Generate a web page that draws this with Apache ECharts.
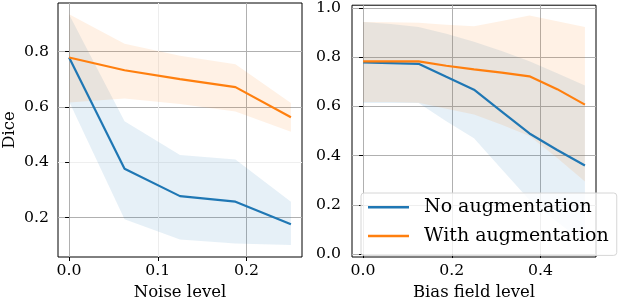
<!DOCTYPE html>
<html>
<head>
<meta charset="utf-8">
<script src="https://cdn.jsdelivr.net/npm/echarts@6/dist/echarts.min.js"></script>
<style>
html,body{margin:0;padding:0;background:#fff;}
#c{width:622px;height:306px;}
</style>
</head>
<body>
<div id="c"></div>
<script>
// ---- Data ----
const noiseLevels      = [0, 0.0625, 0.125, 0.1875, 0.25];
const noAugNoise       = [0.779, 0.377, 0.278, 0.258, 0.176];
const noAugNoiseLow    = [0.620, 0.194, 0.121, 0.107, 0.101];
const noAugNoiseHigh   = [0.934, 0.549, 0.427, 0.410, 0.258];
const withAugNoise     = [0.779, 0.733, 0.701, 0.672, 0.563];
const withAugNoiseLow  = [0.616, 0.631, 0.611, 0.584, 0.511];
const withAugNoiseHigh = [0.935, 0.829, 0.785, 0.755, 0.615];

const biasLevels       = [0, 0.0625, 0.125, 0.1875, 0.25, 0.3125, 0.375, 0.4375, 0.5];
const noAugBias        = [0.779, 0.776, 0.773, 0.720, 0.668, 0.579, 0.490, 0.423, 0.360];
const noAugBiasLow     = [0.614, 0.614, 0.614, 0.540, 0.470, 0.345, 0.220, 0.130, 0.045];
const noAugBiasHigh    = [0.943, 0.935, 0.922, 0.895, 0.863, 0.825, 0.783, 0.735, 0.685];
const withAugBias      = [0.783, 0.783, 0.783, 0.765, 0.750, 0.737, 0.722, 0.670, 0.607];
const withAugBiasLow   = [0.618, 0.618, 0.615, 0.590, 0.567, 0.525, 0.480, 0.390, 0.295];
const withAugBiasHigh  = [0.943, 0.942, 0.940, 0.932, 0.926, 0.947, 0.969, 0.946, 0.922];

const noiseTicksX = [0, 0.1, 0.2];
const noiseTicksY = [0.2, 0.4, 0.6, 0.8];
const biasTicksX  = [0, 0.2, 0.4];
const biasTicksY  = [0, 0.2, 0.4, 0.6, 0.8, 1.0];

const seriesNames = ['No augmentation', 'With augmentation'];
const xNames = ['Noise level', 'Bias field level'];
const yName = 'Dice';

// ---- Styling ----
const BLUE = '#1f77b4', ORANGE = '#ff7f0e';
const FONT = 'DejaVu Serif';
const GRIDC = '#b0b0b0';

function pairs(xs, ys) { return xs.map((x, i) => [x, ys[i]]); }

function band(idx, xs, lo, hi, fill) {
  return {
    type: 'custom', xAxisIndex: idx, yAxisIndex: idx, silent: true, z: 1,
    data: [[xs[0], lo[0]]],
    encode: { x: 0, y: 1 },
    renderItem: function (params, api) {
      const top = xs.map((x, i) => api.coord([x, hi[i]]));
      const bot = xs.map((x, i) => api.coord([x, lo[i]])).reverse();
      return { type: 'polygon', shape: { points: top.concat(bot) }, style: { fill: fill } };
    }
  };
}
function mainLine(idx, xs, ys, color, name) {
  return { type: 'line', name: name, xAxisIndex: idx, yAxisIndex: idx, data: pairs(xs, ys),
    symbol: 'none', lineStyle: { color: color, width: 2.2 }, itemStyle: { color: color }, z: 3 };
}

function xAxisCfg(idx, min, max, ticks, name, gridColors) {
  return {
    type: 'value', gridIndex: idx, min: min, max: max,
    name: name, nameLocation: 'middle', nameGap: 27,
    nameTextStyle: { fontFamily: FONT, fontSize: 16.5, color: '#000' },
    axisLine: { show: false },
    axisTick: { show: true, inside: false, length: 4, lineStyle: { color: '#000', width: 1 }, customValues: ticks },
    axisLabel: { customValues: ticks, margin: 6, fontFamily: FONT, fontSize: 15.7, color: '#000',
      formatter: v => v.toFixed(1) },
    splitLine: { show: true, lineStyle: { color: gridColors, width: 1 } }
  };
}
function yAxisCfg(idx, min, max, ticks, name, margin, gridColors) {
  return {
    type: 'value', gridIndex: idx, min: min, max: max,
    name: name, nameLocation: 'middle', nameGap: 40, nameRotate: 90,
    nameTextStyle: { fontFamily: FONT, fontSize: 16.5, color: '#000' },
    axisLine: { show: false },
    axisTick: { show: true, inside: false, length: 4, lineStyle: { color: '#000', width: 1 }, customValues: ticks },
    axisLabel: { customValues: ticks, margin: margin, fontFamily: FONT, fontSize: 15.7, color: '#000',
      formatter: v => v.toFixed(1) },
    splitLine: { show: true, lineStyle: { color: gridColors, width: 1 } }
  };
}

const chart = echarts.init(document.getElementById('c'), null, { renderer: 'canvas' });
chart.setOption({
  animation: false,
  backgroundColor: '#fff',
  grid: [
    { left: 56, top: 3, width: 246, height: 262, show: true, borderColor: '#000', borderWidth: 1, backgroundColor: 'transparent' },
    { left: 352, top: 3, width: 244, height: 262, show: true, borderColor: '#000', borderWidth: 1, backgroundColor: 'transparent' }
  ],
  xAxis: [
    xAxisCfg(0, -0.0125, 0.2625, noiseTicksX, xNames[0], [GRIDC, '#ededed', GRIDC]),
    xAxisCfg(1, -0.025, 0.525, biasTicksX, xNames[1], [GRIDC])
  ],
  yAxis: [
    yAxisCfg(0, 0.058, 0.976, noiseTicksY, yName, 9, [GRIDC, '#efefef', GRIDC, GRIDC]),
    yAxisCfg(1, -0.012, 1.011, biasTicksY, '', 11, [GRIDC])
  ],
  legend: {
    show: true,
    data: seriesNames.map(n => ({ name: n, icon: 'rect' })),
    orient: 'vertical',
    left: 361, top: 193,
    padding: [0, 8, 5, 7],
    itemGap: 0,
    itemWidth: 41, itemHeight: 2.5,
    backgroundColor: 'rgba(255,255,255,0.8)',
    borderColor: '#d6d6d6', borderWidth: 1, borderRadius: 3,
    textStyle: { fontFamily: FONT, fontSize: 19, color: '#000', lineHeight: 28.7, padding: [0, 0, 0, 10] }
  },
  series: [
    band(0, noiseLevels, noAugNoiseLow, noAugNoiseHigh, 'rgba(31,119,180,0.11)'),
    band(0, noiseLevels, withAugNoiseLow, withAugNoiseHigh, 'rgba(255,127,14,0.11)'),
    band(1, biasLevels, noAugBiasLow, noAugBiasHigh, 'rgba(31,119,180,0.11)'),
    band(1, biasLevels, withAugBiasLow, withAugBiasHigh, 'rgba(255,127,14,0.11)'),
    mainLine(0, noiseLevels, noAugNoise, BLUE, seriesNames[0]),
    mainLine(0, noiseLevels, withAugNoise, ORANGE, seriesNames[1]),
    mainLine(1, biasLevels, noAugBias, BLUE, seriesNames[0]),
    mainLine(1, biasLevels, withAugBias, ORANGE, seriesNames[1])
  ]
});
</script>
</body>
</html>
